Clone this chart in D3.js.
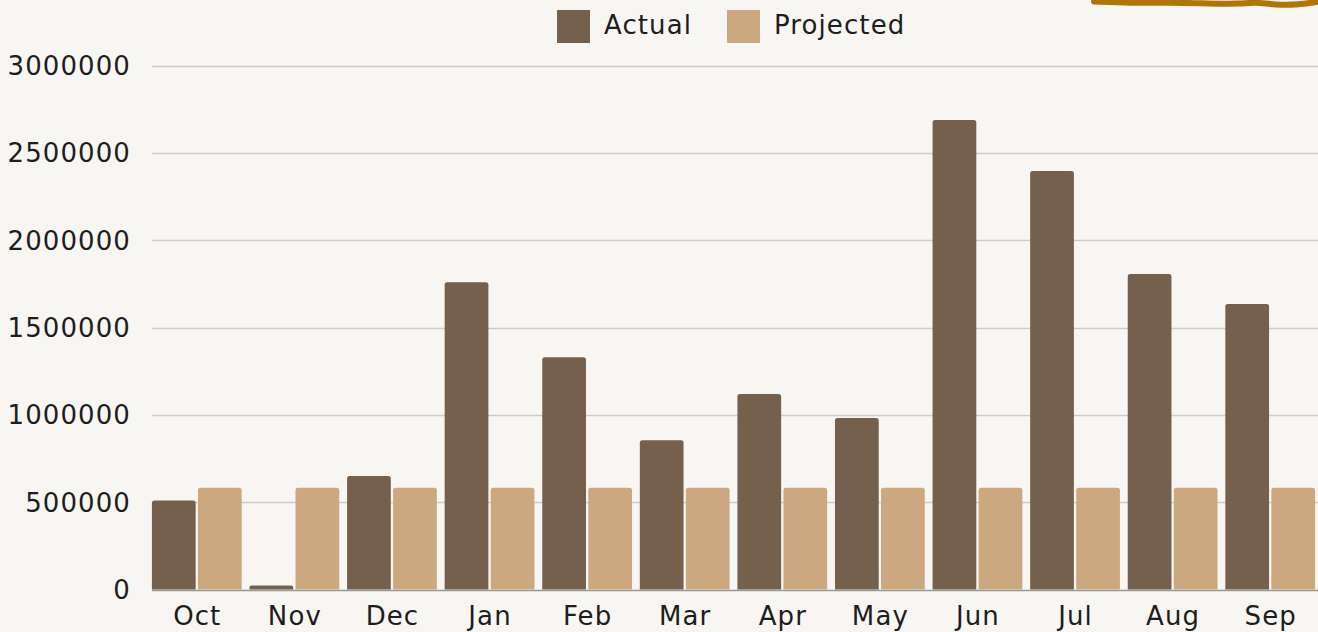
<!DOCTYPE html>
<html>
<head>
<meta charset="utf-8">
<script src="https://cdn.jsdelivr.net/npm/d3@7"></script>
<style>
  html, body { margin: 0; padding: 0; background: #f8f6f2; }
  svg { display: block; }
  text { font-family: "DejaVu Sans", sans-serif; fill: #1d1d1d; font-size: 26px; letter-spacing: 1.1px; }
</style>
</head>
<body>
<svg id="chart" width="1318" height="632"></svg>
<script>
var months = ['Oct', 'Nov', 'Dec', 'Jan', 'Feb', 'Mar', 'Apr', 'May', 'Jun', 'Jul', 'Aug', 'Sep'];
var actual = [510000, 23000, 650000, 1760000, 1330000, 855000, 1120000, 982000, 2690000, 2397000, 1807000, 1635000];
var projected = [583000, 583000, 583000, 583000, 583000, 583000, 583000, 583000, 583000, 583000, 583000, 583000];
var seriesNames = ['Actual', 'Projected'];
var seriesColors = ['#75604d', '#cba880'];
var yTicks = [0, 500000, 1000000, 1500000, 2000000, 2500000, 3000000];

var width = 1318, height = 632;
var svg = d3.select('#chart');

// y scale, 0 sits on the baseline
var y = d3.scaleLinear().domain([0, 3000000]).range([589.5, 65.8]);

var x0 = d3.scaleBand().domain(months).range([148, 1319]).paddingInner(0.08).paddingOuter(0.04);
var x1 = d3.scaleBand().domain(seriesNames).range([0, x0.bandwidth()]).paddingInner(0.05);

// gridlines
svg.append('g').selectAll('line').data(yTicks).enter()
  .append('line')
    .attr('x1', 152)
    .attr('x2', width)
    .attr('y1', function(d) { return Math.round(y(d)) + 0.5; })
    .attr('y2', function(d) { return Math.round(y(d)) + 0.5; })
    .attr('stroke', function(d) { return d === 0 ? '#9a9893' : '#cdccc7'; })
    .attr('stroke-width', 1.3);

// y labels (dx compensates the trailing letter spacing)
svg.append('g').selectAll('text').data(yTicks).enter()
  .append('text')
    .attr('x', 131)
    .attr('y', function(d) { return y(d); })
    .attr('dy', '0.36em')
    .attr('text-anchor', 'end')
    .text(function(d) { return d; });

// bars
var rows = months.map(function(m, i) {
  return { month: m, values: [actual[i], projected[i]] };
});

var groups = svg.append('g').selectAll('g').data(rows).enter()
  .append('g')
    .attr('transform', function(d) { return 'translate(' + x0(d.month) + ',0)'; });

groups.selectAll('path').data(function(d) {
    return d.values.map(function(v, i) { return { name: seriesNames[i], value: v, color: seriesColors[i] }; });
  }).enter()
  .append('path')
    .attr('fill', function(d) { return d.color; })
    .attr('d', function(d) {
      var bx = x1(d.name), bw = x1.bandwidth();
      var top = y(d.value), bot = y(0);
      var r = Math.min(2.5, (bot - top) / 2);
      return 'M' + bx + ',' + bot +
        'V' + (top + r) +
        'Q' + bx + ',' + top + ' ' + (bx + r) + ',' + top +
        'H' + (bx + bw - r) +
        'Q' + (bx + bw) + ',' + top + ' ' + (bx + bw) + ',' + (top + r) +
        'V' + bot + 'Z';
    });

// x labels
svg.append('g').selectAll('text').data(months).enter()
  .append('text')
    .attr('x', function(d) { return x0(d) + x0.bandwidth() / 2 + 0.5; })
    .attr('y', 625)
    .attr('text-anchor', 'middle')
    .text(function(d) { return d; });

// legend
var legendX = [557, 727];
var legend = svg.append('g').selectAll('g').data(seriesNames).enter()
  .append('g')
    .attr('transform', function(d, i) { return 'translate(' + legendX[i] + ',10)'; });

legend.append('rect')
  .attr('width', 33)
  .attr('height', 33)
  .attr('fill', function(d, i) { return seriesColors[i]; });

legend.append('text')
  .attr('x', 47)
  .attr('y', 14.5)
  .attr('dy', '0.36em')
  .text(function(d) { return d; });

// hand drawn stroke in the top right corner
var squiggle = [[1094, 1.5], [1130, 3], [1170, 2.5], [1210, 3.5], [1240, 4], [1255, 2], [1275, 5], [1300, 4.5], [1316, 2]];
svg.append('path')
  .attr('d', d3.line().curve(d3.curveBasis)(squiggle))
  .attr('fill', 'none')
  .attr('stroke', '#b07508')
  .attr('stroke-width', 6)
  .attr('stroke-linecap', 'round');
</script>
</body>
</html>
